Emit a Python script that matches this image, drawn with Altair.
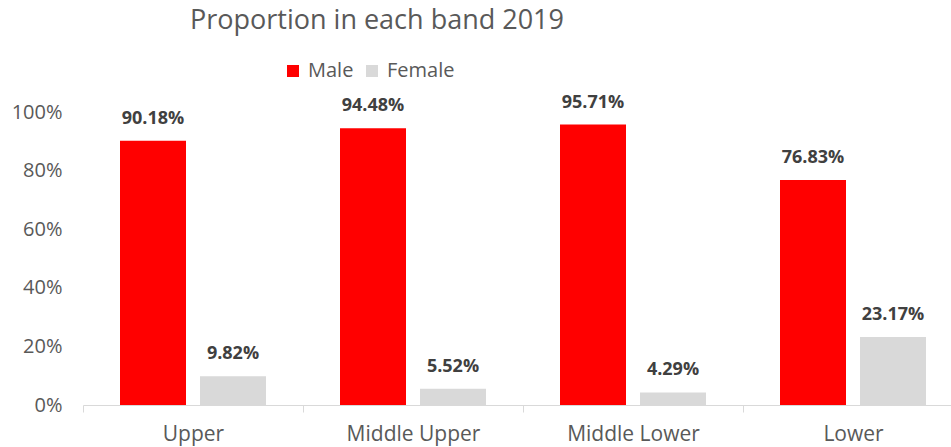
import altair as alt
import pandas as pd

categories = ["Upper", "Middle Upper", "Middle Lower", "Lower"]
series = ["Male", "Female"]
male = [90.18, 94.48, 95.71, 76.83]
female = [9.82, 5.52, 4.29, 23.17]
colors = ["#ff0000", "#d9d9d9"]

rows = []
for i, c in enumerate(categories):
    rows.append({"band": c, "gender": "Male", "value": male[i] / 100, "label": f"{male[i]:.2f}%"})
    rows.append({"band": c, "gender": "Female", "value": female[i] / 100, "label": f"{female[i]:.2f}%"})
df = pd.DataFrame(rows)

FONT = "Open Sans"
GREY = "#595959"

x = alt.X(
    "band:N", sort=categories, title=None,
    scale=alt.Scale(range=[0, 880], paddingInner=0, paddingOuter=0),
    axis=alt.Axis(labelAngle=0, labelFontSize=21, labelColor=GREY, labelFont=FONT,
                  domainColor="#d9d9d9", tickColor="#d9d9d9", tickSize=7,
                  tickBand="extent", labelPadding=11),
)
xo = alt.XOffset("gender:N", sort=series,
                 scale=alt.Scale(paddingInner=0.175, paddingOuter=0.4625))
y = alt.Y(
    "value:Q", title=None,
    scale=alt.Scale(domain=[0, 1], nice=False),
    axis=alt.Axis(format=".0%", values=[0, 0.2, 0.4, 0.6, 0.8, 1.0], grid=False,
                  domain=False, ticks=False, labelPadding=21, labelFontSize=20,
                  labelColor=GREY, labelFont=FONT),
)
color = alt.Color(
    "gender:N", sort=series,
    scale=alt.Scale(domain=series, range=colors),
    legend=alt.Legend(title=None, orient="none", legendX=200, legendY=-51,
                      direction="horizontal", symbolType="square", symbolSize=144,
                      symbolStrokeWidth=0, labelFontSize=20, labelColor=GREY,
                      labelFont=FONT, labelOffset=5, columnPadding=8),
)

bars = alt.Chart(df).mark_bar().encode(x=x, xOffset=xo, y=y, color=color)
labels = alt.Chart(df).mark_text(
    baseline="alphabetic", dy=-17, fontWeight="bold", fontSize=18,
    color="#404040", font=FONT
).encode(x=x, xOffset=xo, y=y, text="label:N")

chart = (bars + labels).properties(
    width=868, height=293,
    title=alt.TitleParams("Proportion in each band 2019", anchor="start", frame="group",
                          dx=107, fontSize=27, font=FONT, color=GREY,
                          fontWeight="normal", offset=26),
    autosize=alt.AutoSizeParams(type="none"),
    padding={"left": 83, "top": 112, "right": 0, "bottom": 42},
).configure_view(stroke=None)

chart.save("out.html", embed_options={"renderer": "svg", "actions": False})
